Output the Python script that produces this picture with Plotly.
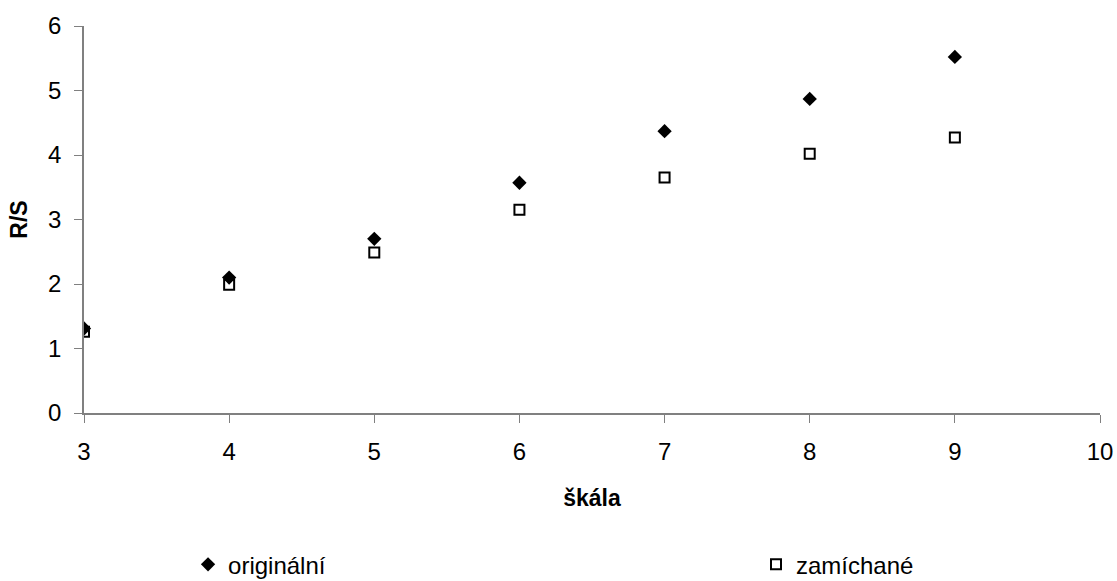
import plotly.graph_objects as go

scale = [3, 4, 5, 6, 7, 8, 9]
original = [1.31, 2.10, 2.70, 3.57, 4.37, 4.87, 5.52]
shuffled = [1.26, 1.99, 2.49, 3.15, 3.65, 4.02, 4.27]

x_ticks = [3, 4, 5, 6, 7, 8, 9, 10]
y_ticks = [0, 1, 2, 3, 4, 5, 6]

font_family = "Liberation Sans, Arial, sans-serif"

fig = go.Figure()
fig.add_trace(go.Scatter(
    x=scale, y=original, mode="markers", name="originální",
    marker=dict(symbol="diamond", size=11, color="black",
                line=dict(color="black", width=0)),
    legend="legend",
))
fig.add_trace(go.Scatter(
    x=scale, y=shuffled, mode="markers", name="zamíchané",
    marker=dict(symbol="square-open", size=10, color="black",
                line=dict(color="black", width=2)),
    legend="legend2",
))

legend_common = dict(orientation="h", yanchor="middle", xanchor="left",
                     font=dict(size=24, family=font_family, color="black"),
                     bgcolor="rgba(0,0,0,0)", itemclick=False, itemwidth=30)

fig.update_layout(
    width=1117, height=581,
    margin=dict(l=84, r=17, t=26, b=168, autoexpand=False),
    paper_bgcolor="white", plot_bgcolor="white",
    font=dict(family=font_family, size=24, color="black"),
    showlegend=True,
    legend=dict(x=0.1024, y=-0.392, **legend_common),
    legend2=dict(x=0.6614, y=-0.392, **legend_common),
    xaxis=dict(range=[3, 10], tickvals=x_ticks, ticks="outside", ticklen=8,
               tickcolor="#808080", showline=True, linecolor="#808080", linewidth=1.5,
               showgrid=False, zeroline=False, automargin=False,
               tickfont=dict(size=24), ticklabelstandoff=8,
               title=dict(text="<b>škála</b>", font=dict(size=23), standoff=26)),
    yaxis=dict(range=[0, 6], tickvals=y_ticks, ticks="outside", ticklen=8,
               tickcolor="#808080", showline=True, linecolor="#808080", linewidth=1.5,
               showgrid=False, zeroline=False, automargin=False,
               tickfont=dict(size=24), ticklabelstandoff=8,
               title=dict(text="<b>R/S</b>", font=dict(size=23), standoff=14)),
)

fig.write_html("out.html", config={"displayModeBar": False},
               post_script="document.body.style.margin='0px';")
